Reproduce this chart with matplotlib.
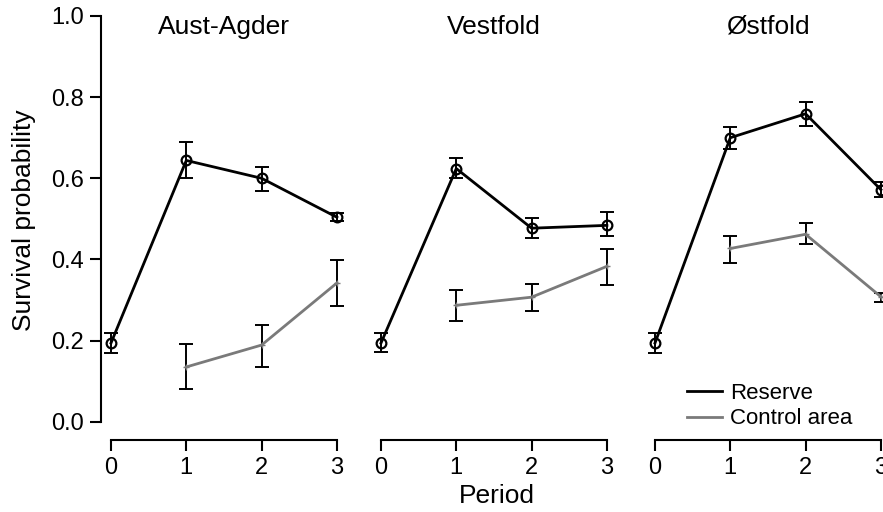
import matplotlib.pyplot as plt
import numpy as np

plt.rcParams['font.family'] = ['Liberation Sans', 'DejaVu Sans']

# data
periods = [0, 1, 2, 3]
regions = ["Aust-Agder", "Vestfold", "Østfold"]

reserve_mean = [[0.194, 0.644, 0.600, 0.504],
                [0.194, 0.624, 0.477, 0.484],
                [0.194, 0.700, 0.759, 0.572]]
reserve_lo = [[0.170, 0.600, 0.568, 0.495],
              [0.172, 0.600, 0.452, 0.457],
              [0.170, 0.671, 0.730, 0.553]]
reserve_hi = [[0.219, 0.690, 0.629, 0.514],
              [0.219, 0.651, 0.501, 0.518],
              [0.219, 0.727, 0.789, 0.590]]

control_periods = [1, 2, 3]
control_mean = [[0.135, 0.189, 0.342],
                [0.287, 0.307, 0.383],
                [0.427, 0.462, 0.308]]
control_lo = [[0.081, 0.135, 0.285],
              [0.248, 0.273, 0.337],
              [0.391, 0.437, 0.296]]
control_hi = [[0.192, 0.238, 0.398],
              [0.324, 0.339, 0.425],
              [0.457, 0.491, 0.317]]

yticks = [0.0, 0.2, 0.4, 0.6, 0.8, 1.0]

W, H = 883, 512
fig = plt.figure(figsize=(W / 100, H / 100), dpi=100)

px_per_unit = 75.3
x_lo, x_hi = -0.15, 3.15
y_lo, y_hi = -0.045, 1.0
zero_px = [111, 381, 655]
top_px, bottom_px = 16, 440

for i, name in enumerate(regions):
    left = zero_px[i] + x_lo * px_per_unit
    width = (x_hi - x_lo) * px_per_unit
    ax = fig.add_axes([left / W, (H - bottom_px) / H, width / W,
                       (bottom_px - top_px) / H])
    ax.set_xlim(x_lo, x_hi)
    ax.set_ylim(y_lo, y_hi)

    # reserve
    m = np.array(reserve_mean[i])
    err = [m - np.array(reserve_lo[i]), np.array(reserve_hi[i]) - m]
    ax.errorbar(periods, m, yerr=err, fmt='none', ecolor='black',
                elinewidth=1.4, capsize=5, capthick=1.4, zorder=2)
    ax.plot(periods, m, color='black', lw=2, marker='o', ms=7,
            mfc='none', mec='black', mew=1.6, zorder=3, label='Reserve')

    # control
    c = np.array(control_mean[i])
    err = [c - np.array(control_lo[i]), np.array(control_hi[i]) - c]
    ax.errorbar(control_periods, c, yerr=err, fmt='none', ecolor='black',
                elinewidth=1.4, capsize=5, capthick=1.4, zorder=2)
    ax.plot(control_periods, c, color='#7a7a7a', lw=2, marker='+', ms=4,
            mew=1, zorder=3, label='Control area')

    ax.text(1.5, 0.973, name, fontsize=19, ha='center', va='center')
    for s in ['top', 'right']:
        ax.spines[s].set_visible(False)
    ax.spines['bottom'].set_bounds(0, 3)
    ax.spines['bottom'].set_linewidth(1.5)
    ax.set_xticks(periods)
    ax.tick_params(axis='x', length=8, width=1.5, labelsize=17, pad=4)

    if i == 0:
        ax.spines['left'].set_bounds(0, 1)
        ax.spines['left'].set_linewidth(1.5)
        ax.spines['left'].set_position(('data', -0.133))
        ax.set_yticks(yticks)
        ax.set_yticklabels(["%.1f" % t for t in yticks])
        ax.tick_params(axis='y', length=8, width=1.5, labelsize=17, pad=4)
    else:
        ax.spines['left'].set_visible(False)
        ax.set_yticks([])

    if i == 2:
        leg = ax.legend(loc='center left', bbox_to_anchor=(0.174, 0.08),
                        frameon=False, fontsize=16, handlelength=1.6,
                        handletextpad=0.35, labelspacing=0.2, borderpad=0,
                        borderaxespad=0)
        # legend lines without markers
        for h in leg.get_lines():
            h.set_marker('')

fig.text(24 / W, 1 - 220 / H, "Survival probability", fontsize=19,
         rotation=90, ha='center', va='center')
fig.text(497 / W, 1 - 496 / H, "Period", fontsize=19, ha='center', va='center')

fig.savefig("out.png", dpi=100)
